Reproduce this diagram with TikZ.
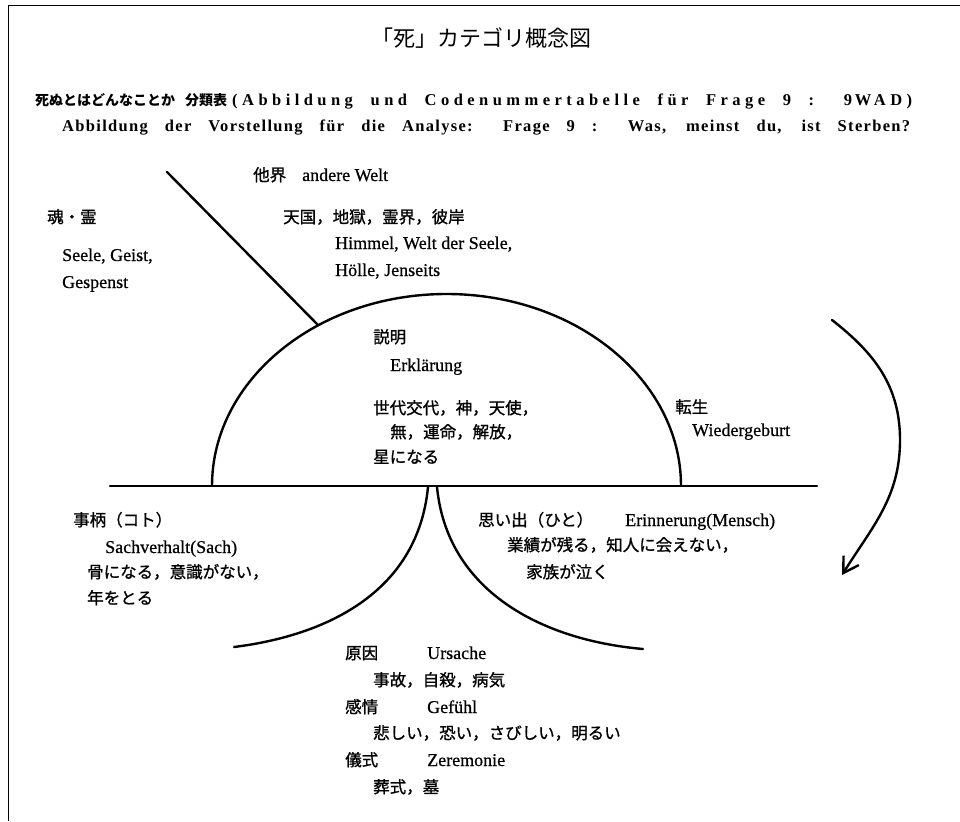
\documentclass[tikz,border=0pt]{standalone}
\usepackage{fontspec}
\setmainfont{Liberation Serif}
\newfontfamily\jp[FakeBold=1]{Noto Sans CJK JP}
\newfontfamily\jpt{Noto Sans CJK JP}
\newfontfamily\lat[FakeBold=0.6]{Liberation Serif}
\newfontfamily\hdr[LetterSpace=8]{Liberation Serif}
\newfontfamily\hdrw[LetterSpace=27]{Liberation Serif}
\usetikzlibrary{arrows.meta}
\tikzset{
  jtxt/.style={anchor=base west, inner sep=0pt, font=\jp\fontsize{16.5}{18}\selectfont},
  ltxt/.style={anchor=base west, inner sep=0pt, font=\lat\fontsize{18}{20}\selectfont},
  htxt/.style={anchor=base west, inner sep=0pt},
  heavy/.style={line width=2.4pt, line cap=round},
  framestyle/.style={line width=1pt}
}
\begin{document}
\begin{tikzpicture}[x=1pt,y=1pt]
\useasboundingbox (0,0) rectangle (960,-821);
\fill[white] (0,0) rectangle (960,-821);
% frame
\coordinate (fbl) at (8,-821);
\coordinate (ftl) at (8,-6);
\coordinate (ftr) at (960,-6);
\draw[framestyle] (fbl) -- (ftl) -- (ftr);
% title and header
\node[inner sep=0pt, font=\jpt\fontsize{22}{24}\selectfont] (title) at (481,-38) {「死」カテゴリ概念図};
\node[htxt, font=\jpt\bfseries\fontsize{14}{16}\selectfont] (h1j) at (35,-106) {死ぬとはどんなことか\hspace{10pt}分類表};
\node[htxt] (h1) at (232,-106) {\makebox[680pt][s]{\hdrw\bfseries\fontsize{16.5}{18}\selectfont(Abbildung und Codenummertabelle für Frage 9 : 9\,WAD)}};
\node[htxt] (h2) at (62,-132) {\makebox[848pt][s]{\hdr\bfseries\fontsize{16.5}{18}\selectfont Abbildung der Vorstellung für die Analyse: Frage 9 : Was, meinst du, ist Sterben?}};
% lines
\coordinate (d1) at (167,-172);
\coordinate (d2) at (318,-325);
\draw[heavy] (d1) -- (d2);
\coordinate (hl) at (110,-486);
\coordinate (hr) at (817,-486);
\draw[heavy] (hl) -- (hr);
\coordinate (domeL) at (212,-486);
\draw[heavy] (domeL) arc[start angle=180, end angle=0, x radius=234.5, y radius=192];
\coordinate (cl0) at (428,-487);
\coordinate (cl1) at (234,-647);
\draw[heavy] (cl0) .. controls (418,-590) and (330,-635) .. (cl1);
\coordinate (cr0) at (437,-487);
\coordinate (cr1) at (643,-649);
\draw[heavy] (cr0) .. controls (447,-590) and (540,-640) .. (cr1);
\coordinate (a1) at (832,-320);
\coordinate (a2) at (900,-440);
\coordinate (a3) at (842,-575);
\draw[heavy, -{Straight Barb[length=15pt,width=18pt]}] (a1) to[out=-38,in=90] (a2) to[out=-90,in=58] (a3);
% texts
\node[jtxt] (takai) at (253,-181) {他界};
\node[ltxt] (andere) at (302,-181) {andere Welt};
\node[jtxt] (tama) at (47,-223) {魂・霊};
\node[jtxt] (tengoku) at (283,-223) {天国，地獄，霊界，彼岸};
\node[ltxt] (himmel) at (335,-249) {Himmel, Welt der Seele,};
\node[ltxt] (hoelle) at (335,-276) {Hölle, Jenseits};
\node[ltxt] (seele) at (62,-261) {Seele, Geist,};
\node[ltxt] (gespenst) at (62,-288) {Gespenst};
\node[jtxt] (setsumei) at (373,-343) {説明};
\node[ltxt] (erkl) at (390,-371) {Erklärung};
\node[jtxt] (sedai) at (373,-414) {世代交代，神，天使，};
\node[jtxt] (mu) at (390,-438) {無，運命，解放，};
\node[jtxt] (hoshi) at (373,-463) {星になる};
\node[jtxt] (tensei) at (675,-413) {転生};
\node[ltxt] (wieder) at (692,-436) {Wiedergeburt};
\node[jtxt] (kotogara) at (73,-526) {事柄（コト）};
\node[ltxt] (sach) at (105,-553) {Sachverhalt(Sach)};
\node[jtxt] (hone) at (87,-578) {骨になる，意識がない，};
\node[jtxt] (toshi) at (87,-604) {年をとる};
\node[jtxt] (omoide) at (478,-526) {思い出（ひと）};
\node[ltxt] (erinn) at (625,-526) {Erinnerung(Mensch)};
\node[jtxt] (gyoseki) at (507,-551) {業績が残る，知人に会えない，};
\node[jtxt] (kazoku) at (526,-578) {家族が泣く};
\node[jtxt] (gen) at (345,-659) {原因};
\node[ltxt] (urs) at (427,-659) {Ursache};
\node[jtxt] (jiko) at (373,-686) {事故，自殺，病気};
\node[jtxt] (kanjo) at (345,-713) {感情};
\node[ltxt] (gef) at (427,-713) {Gefühl};
\node[jtxt] (kanashii) at (373,-739) {悲しい，恐い，さびしい，明るい};
\node[jtxt] (gishiki) at (345,-766) {儀式};
\node[ltxt] (zer) at (427,-766) {Zeremonie};
\node[jtxt] (soushiki) at (373,-793) {葬式，墓};
\end{tikzpicture}
\end{document}
